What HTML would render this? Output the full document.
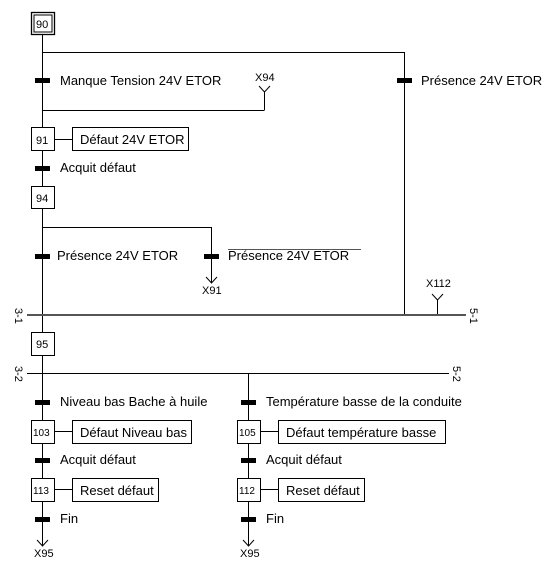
<!DOCTYPE html><html><head><style>body{margin:0;background:#fff}svg text{font-family:"Liberation Sans",Arial,sans-serif;fill:#000}</style></head><body>
<svg width="552" height="566" viewBox="0 0 552 566" xmlns="http://www.w3.org/2000/svg">
<g stroke="#000" stroke-width="1" fill="none">
<rect x="31.5" y="12.5" width="23" height="22" stroke-width="1.3"/><rect x="34" y="15" width="18" height="17"/>
<line x1="42.5" y1="35" x2="42.5" y2="127"/>
<line x1="42" y1="52.5" x2="404.5" y2="52.5"/>
<line x1="404.5" y1="52" x2="404.5" y2="315"/>
<line x1="42" y1="110.5" x2="264.5" y2="110.5"/>
<line x1="264.5" y1="110" x2="264.5" y2="92"/>
<polyline points="259,86 264.5,92 270,86"/>
<rect x="31.5" y="127.5" width="23" height="23"/>
<line x1="54" y1="139.5" x2="72" y2="139.5"/>
<rect x="72.5" y="127.5" width="116" height="23"/>
<line x1="42.5" y1="150" x2="42.5" y2="186"/>
<rect x="31.5" y="186.5" width="23" height="22"/>
<line x1="42.5" y1="209" x2="42.5" y2="332"/>
<line x1="42" y1="227.5" x2="211.5" y2="227.5"/>
<line x1="211.5" y1="227" x2="211.5" y2="283"/>
<polyline points="206,277 211.5,283 217,277"/>
<line x1="437.5" y1="315" x2="437.5" y2="300"/>
<polyline points="432,294 437.5,300 443,294"/>
<line x1="27" y1="315" x2="466" y2="315" stroke="#555" stroke-width="2"/>
<rect x="31.5" y="332.5" width="23" height="23"/>
<line x1="42.5" y1="355" x2="42.5" y2="420"/>
<line x1="27" y1="373.5" x2="449" y2="373.5"/>
<line x1="248.5" y1="373" x2="248.5" y2="420"/>
<g id="col">
<rect x="31.5" y="420.5" width="23" height="23"/>
<line x1="54" y1="431.5" x2="72" y2="431.5"/>
<line x1="42.5" y1="443" x2="42.5" y2="478"/>
<rect x="31.5" y="478.5" width="23" height="23"/>
<line x1="54" y1="489.5" x2="72" y2="489.5"/>
<line x1="42.5" y1="501" x2="42.5" y2="546"/>
<polyline points="37,540 42.5,546 48,540"/>
</g>
<use href="#col" x="206"/>
<rect x="72.5" y="420.5" width="119" height="23"/>
<rect x="72.5" y="478.5" width="86" height="23"/>
<rect x="278.5" y="420.5" width="167" height="23"/>
<rect x="278.5" y="478.5" width="86" height="23"/>
<line x1="228" y1="249.5" x2="361" y2="249.5" stroke="#555"/>
</g>
<g fill="#000">
<rect x="35" y="78" width="15" height="5"/><rect x="397" y="78" width="15" height="5"/>
<rect x="35" y="166" width="15" height="5"/>
<rect x="35" y="254" width="15" height="5"/><rect x="204" y="254" width="15" height="5"/>
<rect x="35" y="400" width="15" height="5"/><rect x="35" y="458" width="15" height="5"/><rect x="35" y="517" width="15" height="5"/>
<rect x="241" y="400" width="15" height="5"/><rect x="241" y="458" width="15" height="5"/><rect x="241" y="517" width="15" height="5"/>
</g>
<g font-size="13">
<text x="36" y="28" font-size="11">90</text>
<text x="36" y="144" font-size="11">91</text>
<text x="36" y="202" font-size="11">94</text>
<text x="36" y="348" font-size="11">95</text>
<text x="33" y="436" font-size="10">103</text>
<text x="33" y="494" font-size="10">113</text>
<text x="239" y="436" font-size="10">105</text>
<text x="239" y="494" font-size="10">112</text>
<text x="60" y="85">Manque Tension 24V ETOR</text>
<text x="421" y="85">Présence 24V ETOR</text>
<text x="80" y="144">Défaut 24V ETOR</text>
<text x="60" y="172">Acquit défaut</text>
<text x="57" y="260">Présence 24V ETOR</text>
<text x="228" y="260">Présence 24V ETOR</text>
<text x="60" y="406">Niveau bas Bache à huile</text>
<text x="266" y="406">Température basse de la conduite</text>
<text x="80" y="437">Défaut Niveau bas</text>
<text x="286" y="437">Défaut température basse</text>
<text x="60" y="464">Acquit défaut</text>
<text x="266" y="464">Acquit défaut</text>
<text x="80" y="495">Reset défaut</text>
<text x="286" y="495">Reset défaut</text>
<text x="60" y="523">Fin</text>
<text x="266" y="523">Fin</text>
</g>
<g font-size="11">
<text x="255" y="81">X94</text>
<text x="202" y="294">X91</text>
<text x="426" y="287">X112</text>
<text x="34" y="557">X95</text>
<text x="240" y="557">X95</text>
<text transform="translate(15,308) rotate(90)">3-1</text>
<text transform="translate(15,366) rotate(90)">3-2</text>
<text transform="translate(470,308) rotate(90)">5-1</text>
<text transform="translate(453,366) rotate(90)">5-2</text>
</g>
</svg></body></html>
